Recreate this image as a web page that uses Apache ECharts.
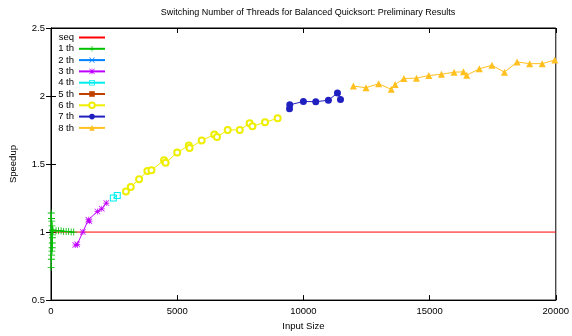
<!DOCTYPE html>
<html><head><meta charset="utf-8">
<script src="https://cdn.jsdelivr.net/npm/echarts@6/dist/echarts.min.js"></script>
<style>html,body{margin:0;padding:0;background:#fff}#c{width:572px;height:336px}</style>
</head><body><div id="c"></div>
<script>
var titleText = "Switching Number of Threads for Balanced Quicksort: Preliminary Results";
var xName = "Input Size";
var yName = "Speedup";
var xTicks = [0, 5000, 10000, 15000, 20000];
var yTicks = [0.5, 1, 1.5, 2, 2.5];

var seqX = [0, 20000];
var seqY = [1, 1];

var th1X = [5, 10, 15, 20, 25, 30, 35, 40, 45, 50, 55, 60, 65, 70, 80, 200, 300, 400, 500, 600, 700, 800, 900];
var th1Y = [0.74, 1.14, 0.80, 1.10, 0.83, 1.08, 0.86, 1.045, 0.885, 0.92, 0.958, 0.98, 1.016, 1.01, 1.01, 1.01, 1.01, 1.01, 1.005, 1.005, 1.005, 1.0, 1.0];

var th2X = [];
var th2Y = [];

var th3X = [960, 1040, 1260, 1480, 1520, 1840, 2010, 2190];
var th3Y = [0.905, 0.91, 1.0, 1.09, 1.08, 1.152, 1.171, 1.213];

var th4X = [2470, 2625];
var th4Y = [1.25, 1.269];

var th5X = [];
var th5Y = [];

var th6X = [2970, 3160, 3490, 3820, 3980, 4480, 4540, 5000, 5460, 5490, 5970, 6470, 6575, 7000, 7480, 7870, 7980, 8480, 8980];
var th6Y = [1.298, 1.331, 1.389, 1.448, 1.455, 1.528, 1.509, 1.584, 1.637, 1.618, 1.673, 1.717, 1.698, 1.751, 1.751, 1.80, 1.778, 1.807, 1.836];

var th7X = [9450, 9460, 10000, 10490, 10990, 11350, 11470];
var th7Y = [1.907, 1.935, 1.96, 1.958, 1.969, 2.022, 1.975];

var th8X = [11980, 12480, 12980, 13480, 13635, 13980, 14480, 14970, 15470, 15970, 16340, 16470, 16970, 17470, 17965, 18465, 18965, 19460, 19960];
var th8Y = [2.073, 2.061, 2.09, 2.049, 2.085, 2.129, 2.131, 2.151, 2.16, 2.175, 2.178, 2.153, 2.20, 2.226, 2.175, 2.25, 2.238, 2.238, 2.265];

function pairs(xs, ys) { return xs.map(function (x, i) { return [x, ys[i]]; }); }

var PLUS = 'path://M4.4,0h1.2v10h-1.2z M0,4.4h10v1.2h-10z';
var CROSS = 'path://M0.8,0 L10,9.2 L9.2,10 L0,0.8z M9.2,0 L10,0.8 L0.8,10 L0,9.2z';
var STAR = 'path://M4.4,0h1.2v10h-1.2z M0,4.4h10v1.2h-10z M0.8,0 L10,9.2 L9.2,10 L0,0.8z M9.2,0 L10,0.8 L0.8,10 L0,9.2z';
var HSQ = 'path://M0,0h10v10h-10z M1.5,1.5v7h7v-7z';

var font = 'Liberation Sans, Arial, Helvetica, sans-serif';

function mk(name, xs, ys, color, symbol, size, extra) {
  var s = {
    name: name, type: 'line', data: pairs(xs, ys),
    xAxisIndex: 0, yAxisIndex: 0,
    symbol: symbol, symbolSize: size, showSymbol: true,
    lineStyle: { color: color, width: 1 },
    itemStyle: { color: color },
    animation: false, z: 3
  };
  if (extra) for (var k in extra) s[k] = extra[k];
  return s;
}

var series = [
  mk('seq', seqX, seqY, '#ff0000', 'circle', 0, { z: 2, showSymbol: false, itemStyle: { color: '#ff0000', opacity: 0 } }),
  mk('1 th', th1X, th1Y, '#00c000', PLUS, 7),
  mk('2 th', th2X, th2Y, '#0080ff', CROSS, 6),
  mk('3 th', th3X, th3Y, '#c000ff', STAR, 6),
  mk('4 th', th4X, th4Y, '#00eeee', HSQ, 7),
  mk('5 th', th5X, th5Y, '#c04000', 'rect', 7),
  mk('6 th', th6X, th6Y, '#eeee00', 'emptyCircle', 6, { itemStyle: { color: '#eeee00', borderColor: '#eeee00', borderWidth: 1 } }),
  mk('7 th', th7X, th7Y, '#2020c0', 'circle', 7),
  mk('8 th', th8X, th8Y, '#ffc020', 'triangle', 7)
];

var axisCommon = {
  axisLine: { show: true, lineStyle: { color: '#000', width: 1 } },
  axisTick: { show: true, inside: true, length: 5, lineStyle: { color: '#000' } },
  splitLine: { show: false }
};

var legendNames = ['seq', '1 th', '2 th', '3 th', '4 th', '5 th', '6 th', '7 th', '8 th'];

var chart = echarts.init(document.getElementById('c'), null, { renderer: 'canvas' });
chart.setOption({
  animation: false,
  backgroundColor: '#fff',
  title: {
    text: titleText, left: 303, top: 3, textAlign: 'center',
    textStyle: { fontFamily: font, fontSize: 9, fontWeight: 'normal', color: '#000' }
  },
  grid: { left: 49, right: 15, top: 28, bottom: 30, show: true, borderColor: '#000', borderWidth: 1, containLabel: false },
  legend: {
    orient: 'vertical', left: 47, top: 27, align: 'right',
    itemWidth: 26, itemHeight: 7, itemGap: 0.3,
    textStyle: { fontFamily: font, fontSize: 9.5, color: '#000', width: 22, align: 'right', lineHeight: 11 },
    data: legendNames
  },
  xAxis: [
    Object.assign({
      type: 'value', min: xTicks[0], max: xTicks[xTicks.length - 1], interval: 5000,
      name: xName, nameLocation: 'middle', nameGap: 19,
      nameTextStyle: { fontFamily: font, fontSize: 9.5, color: '#000' },
      axisLabel: { fontFamily: font, fontSize: 9.5, color: '#000', margin: 6, formatter: function (v) { return String(v); } }
    }, axisCommon),
    Object.assign({
      type: 'value', position: 'top', min: xTicks[0], max: xTicks[xTicks.length - 1], interval: 5000,
      axisLabel: { show: false }
    }, axisCommon)
  ],
  yAxis: [
    Object.assign({
      type: 'value', min: yTicks[0], max: yTicks[yTicks.length - 1], interval: 0.5,
      name: yName, nameLocation: 'middle', nameGap: 33, nameRotate: 90,
      nameTextStyle: { fontFamily: font, fontSize: 9.5, color: '#000' },
      axisLabel: { fontFamily: font, fontSize: 9.5, color: '#000', margin: 6, formatter: function (v) { return String(v); } }
    }, axisCommon),
    Object.assign({
      type: 'value', position: 'right', min: yTicks[0], max: yTicks[yTicks.length - 1], interval: 0.5,
      axisLabel: { show: false }
    }, axisCommon)
  ],
  series: series
});
</script>
</body></html>
